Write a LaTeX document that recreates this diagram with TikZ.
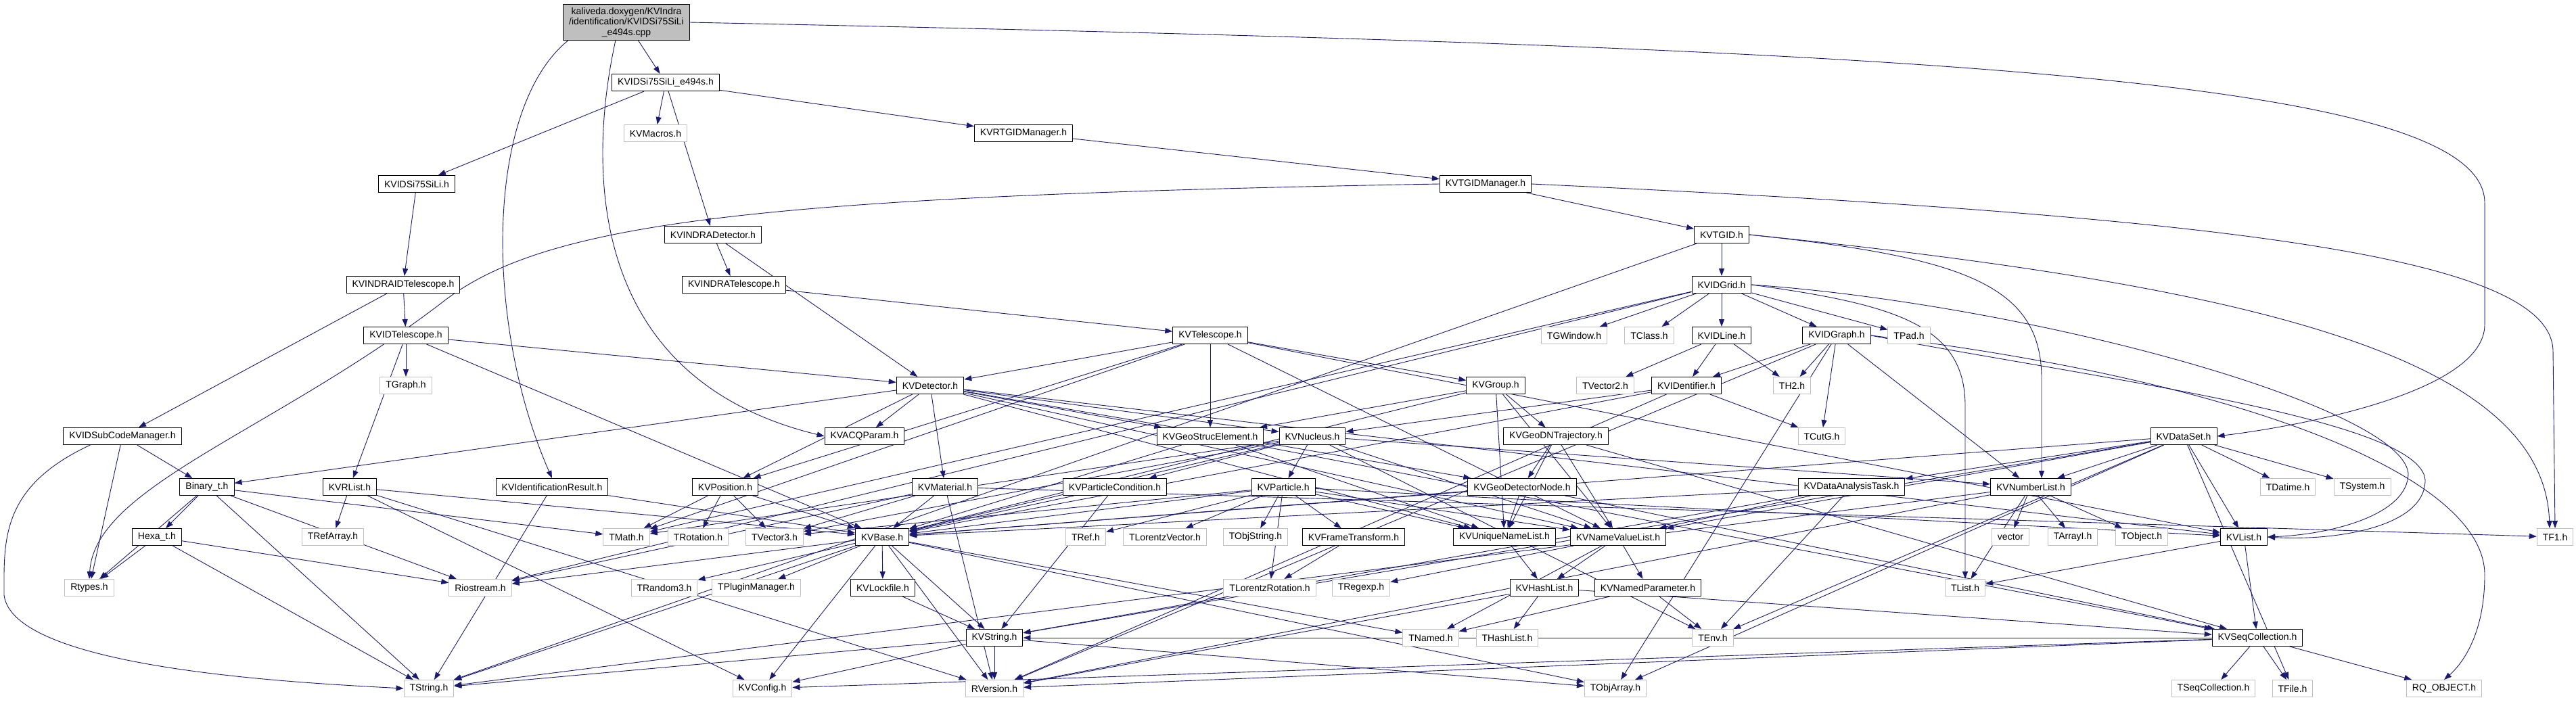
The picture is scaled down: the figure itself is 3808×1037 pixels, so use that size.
\documentclass[tikz,border=0pt]{standalone}
\usepackage{fontspec}
\setmainfont{Liberation Sans}
\usetikzlibrary{arrows.meta,backgrounds}
\definecolor{IncEdge}{HTML}{191970}
\definecolor{IncGray}{HTML}{BFBFBF}
\tikzset{
    inc/graph/.style={
        x=1pt, y=-1pt,
        font=\fontsize{14}{15.5}\selectfont,
        line join=round
    },
    inc/file/.style={draw=black, line width=1pt, fill=white,
        minimum height=25pt, inner xsep=8.5pt, inner ysep=2pt},
    inc/ext/.style={inc/file, draw=IncGray},
    inc/root/.style={inc/file, fill=IncGray, align=center, inner ysep=4pt},
    inc/dep/.style={draw=IncEdge, line width=0.9pt,
        -{Triangle[length=11pt, width=8pt]}}
}

\begin{document}
\begin{tikzpicture}[inc/graph]
    \useasboundingbox (0,0) rectangle (3808,1037);
    % rank 0 to 4
    \node[inc/root] (main) at (926,33)
        {kaliveda.doxygen/KVIndra\\/identification/KVIDSi75SiLi\\\_e494s.cpp};
    \node[inc/file] (e494sh) at (984,122) {KVIDSi75SiLi\_e494s.h};
    \node[inc/ext] (macros) at (969,197) {KVMacros.h};
    \node[inc/file] (rtgid) at (1513,197) {KVRTGIDManager.h};
    \node[inc/file] (sili) at (616,272) {KVIDSi75SiLi.h};
    \node[inc/file] (tgidman) at (2196,272) {KVTGIDManager.h};
    \node[inc/file] (indradet) at (1054,347) {KVINDRADetector.h};
    \node[inc/file] (tgid) at (2545,347) {KVTGID.h};
    % rank 5 to 8
    \node[inc/file] (indraidtel) at (596,421) {KVINDRAIDTelescope.h};
    \node[inc/file] (indratel) at (1085,421) {KVINDRATelescope.h};
    \node[inc/file] (idgrid) at (2545,421) {KVIDGrid.h};
    \node[inc/file] (idtel) at (600,496) {KVIDTelescope.h};
    \node[inc/file] (telescope) at (1789,496) {KVTelescope.h};
    \node[inc/ext] (tgwindow) at (2327,496) {TGWindow.h};
    \node[inc/ext] (tclass) at (2438,496) {TClass.h};
    \node[inc/file] (idline) at (2545,496) {KVIDLine.h};
    \node[inc/file] (idgraph) at (2715,496) {KVIDGraph.h};
    \node[inc/ext] (tpad) at (2822,496) {TPad.h};
    \node[inc/ext] (tgraph) at (600,570) {TGraph.h};
    \node[inc/file] (detector) at (1375,570) {KVDetector.h};
    \node[inc/file] (group) at (2211,570) {KVGroup.h};
    \node[inc/ext] (tvector2) at (2373,570) {TVector2.h};
    \node[inc/file] (identifier) at (2493,570) {KVIDentifier.h};
    \node[inc/ext] (th2) at (2649,570) {TH2.h};
    \node[inc/file] (subcode) at (181,645) {KVIDSubCodeManager.h};
    \node[inc/file] (acqparam) at (1278,645) {KVACQParam.h};
    \node[inc/file] (geostruc) at (1789,645) {KVGeoStrucElement.h};
    \node[inc/file] (nucleus) at (1940,645) {KVNucleus.h};
    \node[inc/file] (geodntraj) at (2300,645) {KVGeoDNTrajectory.h};
    \node[inc/ext] (tcutg) at (2693,645) {TCutG.h};
    \node[inc/file] (dataset) at (3228,645) {KVDataSet.h};
    % rank 9
    \node[inc/file] (binary) at (306,720) {Binary\_t.h};
    \node[inc/file] (rlist) at (517,720) {KVRList.h};
    \node[inc/file] (idresult) at (816,720) {KVIdentificationResult.h};
    \node[inc/file] (position) at (1072,720) {KVPosition.h};
    \node[inc/file] (material) at (1397,720) {KVMaterial.h};
    \node[inc/file] (partcond) at (1648,720) {KVParticleCondition.h};
    \node[inc/file] (particle) at (1897,720) {KVParticle.h};
    \node[inc/file] (geodetnode) at (2250,720) {KVGeoDetectorNode.h};
    \node[inc/file] (anatask) at (2737,720) {KVDataAnalysisTask.h};
    \node[inc/file] (numberlist) at (3002,720) {KVNumberList.h};
    \node[inc/ext] (tdatime) at (3382,720) {TDatime.h};
    \node[inc/ext] (tsystem) at (3492,720) {TSystem.h};
    % rank 10
    \node[inc/file] (hexa) at (232,794) {Hexa\_t.h};
    \node[inc/ext] (trefarray) at (492,794) {TRefArray.h};
    \node[inc/ext] (tmath) at (926,794) {TMath.h};
    \node[inc/ext] (trotation) at (1032,794) {TRotation.h};
    \node[inc/ext] (tvector3) at (1145,794) {TVector3.h};
    \node[inc/file] (kvbase) at (1304,794) {KVBase.h};
    \node[inc/ext] (tref) at (1605,794) {TRef.h};
    \node[inc/ext] (tlorentzvector) at (1722,794) {TLorentzVector.h};
    \node[inc/ext] (tobjstring) at (1856,794) {TObjString.h};
    \node[inc/file] (frametransform) at (2001,794) {KVFrameTransform.h};
    \node[inc/file] (uniquenamelist) at (2224,794) {KVUniqueNameList.h};
    \node[inc/file] (namevaluelist) at (2392,794) {KVNameValueList.h};
    \node[inc/ext] (vector) at (2972,794) {vector};
    \node[inc/ext] (tarrayi) at (3064,794) {TArrayI.h};
    \node[inc/ext] (tobject) at (3166,794) {TObject.h};
    \node[inc/file] (kvlist) at (3317,794) {KVList.h};
    \node[inc/ext] (tf1) at (3777,794) {TF1.h};
    % rank 11 to 13
    \node[inc/ext] (rtypes) at (132,869) {Rtypes.h};
    \node[inc/ext] (riostream) at (710,869) {Riostream.h};
    \node[inc/ext] (trandom3) at (982,869) {TRandom3.h};
    \node[inc/ext] (tpluginmanager) at (1118,869) {TPluginManager.h};
    \node[inc/file] (lockfile) at (1305,869) {KVLockfile.h};
    \node[inc/ext] (tlorentzrotation) at (1877,869) {TLorentzRotation.h};
    \node[inc/ext] (tregexp) at (2012,869) {TRegexp.h};
    \node[inc/file] (hashlist) at (2283,869) {KVHashList.h};
    \node[inc/file] (namedparameter) at (2436,869) {KVNamedParameter.h};
    \node[inc/ext] (tlist) at (2905,869) {TList.h};
    \node[inc/file] (kvstring) at (1470,943) {KVString.h};
    \node[inc/ext] (tnamed) at (2115,943) {TNamed.h};
    \node[inc/ext] (thashlist) at (2228,943) {THashList.h};
    \node[inc/ext] (tenv) at (2532,943) {TEnv.h};
    \node[inc/file] (seqcollection) at (3337,943) {KVSeqCollection.h};
    \node[inc/ext] (tstring) at (634,1018) {TString.h};
    \node[inc/ext] (kvconfig) at (1127,1018) {KVConfig.h};
    \node[inc/ext] (rversion) at (1470,1018) {RVersion.h};
    \node[inc/ext] (tobjarray) at (2388,1018) {TObjArray.h};
    \node[inc/ext] (tseqcollection) at (3272,1018) {TSeqCollection.h};
    \node[inc/ext] (tfile) at (3389,1018) {TFile.h};
    \node[inc/ext] (rqobject) at (3613,1018) {RQ\_OBJECT.h};

    \begin{scope}[on background layer]
        \foreach \s/\t in {main/e494sh, e494sh/sili, e494sh/macros,
            e494sh/rtgid, e494sh/indradet, rtgid/tgidman, tgidman/tgid,
            sili/indraidtel, indradet/indratel, indradet/detector,
            tgid/idgrid, tgid/tstring, indraidtel/idtel, indraidtel/subcode,
            indratel/telescope, idgrid/tgwindow, idgrid/tclass,
            idgrid/idline, idgrid/idgraph, idgrid/tpad, idgrid/riostream,
            idgrid/tmath, idtel/tgraph, idtel/detector, idtel/kvbase,
            idtel/rlist, telescope/detector, telescope/geostruc,
            telescope/group, telescope/position, telescope/kvlist,
            telescope/tmath, telescope/namevaluelist, idline/tvector2,
            idline/identifier, idline/th2, idgraph/identifier, idgraph/th2,
            idgraph/tcutg, idgraph/numberlist, idgraph/rversion,
            idgraph/tobjarray, detector/acqparam, detector/material,
            detector/geostruc, detector/nucleus, detector/position,
            detector/geodetnode, detector/uniquenamelist,
            detector/namevaluelist, detector/kvlist, detector/binary,
            group/geodntraj, group/geostruc, group/namevaluelist,
            group/uniquenamelist, group/kvbase, identifier/nucleus,
            identifier/tcutg, identifier/kvbase, identifier/rversion,
            geostruc/kvbase, geostruc/uniquenamelist, geostruc/seqcollection,
            nucleus/particle, nucleus/partcond, nucleus/kvbase,
            nucleus/tvector3, nucleus/numberlist, nucleus/tmath, nucleus/tenv,
            nucleus/namevaluelist, geodntraj/geodetnode,
            geodntraj/uniquenamelist, geodntraj/seqcollection,
            geodntraj/namevaluelist, dataset/anatask, dataset/numberlist,
            dataset/tdatime, dataset/tsystem, dataset/kvlist, dataset/tfile,
            dataset/tenv, dataset/kvstring, dataset/kvbase,
            dataset/namevaluelist, dataset/tobjarray, subcode/binary,
            subcode/rtypes, binary/hexa, binary/rtypes, binary/tstring,
            binary/riostream, binary/tmath, hexa/rtypes, hexa/tstring,
            hexa/riostream, rlist/trefarray, rlist/kvbase, rlist/kvconfig,
            rlist/rversion, idresult/tstring, idresult/kvbase,
            position/tmath, position/trotation, position/tvector3,
            position/kvbase, material/kvbase, material/rversion,
            material/tvector3, material/tf1, material/riostream,
            partcond/kvbase, partcond/kvstring, particle/tvector3,
            particle/tlorentzvector, particle/tref, particle/tobjstring,
            particle/frametransform, particle/uniquenamelist,
            particle/namevaluelist, particle/kvbase,
            particle/tlorentzrotation, particle/kvlist,
            frametransform/tlorentzrotation, geodetnode/uniquenamelist,
            geodetnode/kvbase, geodetnode/seqcollection, anatask/kvbase,
            anatask/kvstring, anatask/namevaluelist, anatask/tenv,
            numberlist/vector, numberlist/tarrayi, numberlist/tobject,
            numberlist/tlist, numberlist/tstring, numberlist/rversion,
            kvbase/riostream, kvbase/trandom3, kvbase/tpluginmanager,
            kvbase/lockfile, kvbase/kvstring, kvbase/kvconfig,
            kvbase/rversion, kvbase/tstring, kvbase/tnamed, kvbase/tobjarray,
            lockfile/kvstring, kvstring/tstring, kvstring/kvconfig,
            kvstring/rversion, kvstring/tobjarray, uniquenamelist/hashlist,
            namevaluelist/hashlist, namevaluelist/namedparameter,
            namevaluelist/tregexp, namevaluelist/tnamed, hashlist/thashlist,
            hashlist/seqcollection, hashlist/rversion, namedparameter/tnamed,
            namedparameter/tenv, kvlist/tlist, kvlist/seqcollection,
            seqcollection/tseqcollection, seqcollection/tfile,
            seqcollection/rqobject, seqcollection/kvstring,
            seqcollection/kvconfig, seqcollection/rversion}
            \draw[inc/dep] (\s) -- (\t);
        % long edges routed round the graph
        \draw[inc/dep] (main.east) .. controls (2800,70) and (3673,110)
            .. (3673,300) -- (3673,480)
            .. controls (3673,580) and (3400,630) .. (dataset.east);
        \draw[inc/dep] ([xshift=8pt]main.south west)
            .. controls (716,160) and (716,480) .. (idresult.north);
        \draw[inc/dep] ([xshift=-16pt]main.south)
            .. controls (868,250) and (868,560) .. (acqparam.west);
        \draw[inc/dep] (tgidman.east) .. controls (3300,320) and (3774,380)
            .. (3774,520) -- (tf1.north);
        \draw[inc/dep] (tgid.east) .. controls (3300,420) and (3760,520)
            .. ([xshift=-8pt]tf1.north);
        \draw[inc/dep] (tgid.east) .. controls (2900,380) and (3018,420)
            .. (3018,560) -- ([xshift=16pt]numberlist.north);
        \draw[inc/dep] (tgidman.west) .. controls (1100,290) and (800,330)
            .. (650,450) .. controls (400,640) and (140,720) .. (rtypes.north);
        \draw[inc/dep] ([xshift=40pt]subcode.south west)
            .. controls (0,720) and (6,800) .. (6,880)
            .. controls (20,990) and (450,1010) .. (tstring.west);
        \draw[inc/dep] (idgrid.east) .. controls (2800,450) and (2905,480)
            .. (2905,600) -- (tlist.north);
        \draw[inc/dep] (idgrid.east) .. controls (3000,450) and (3550,600)
            .. (3560,700) .. controls (3560,760) and (3450,790) .. (kvlist.east);
        \draw[inc/dep] (idgraph.east) .. controls (3100,560) and (3580,620)
            .. (3585,710) .. controls (3585,780) and (3450,800) .. (kvlist.east);
        \draw[inc/dep] (idgraph.east) .. controls (3300,560) and (3673,700)
            .. (3673,850) .. controls (3673,950) and (3630,990) .. (rqobject.north);
    \end{scope}
\end{tikzpicture}
\end{document}
